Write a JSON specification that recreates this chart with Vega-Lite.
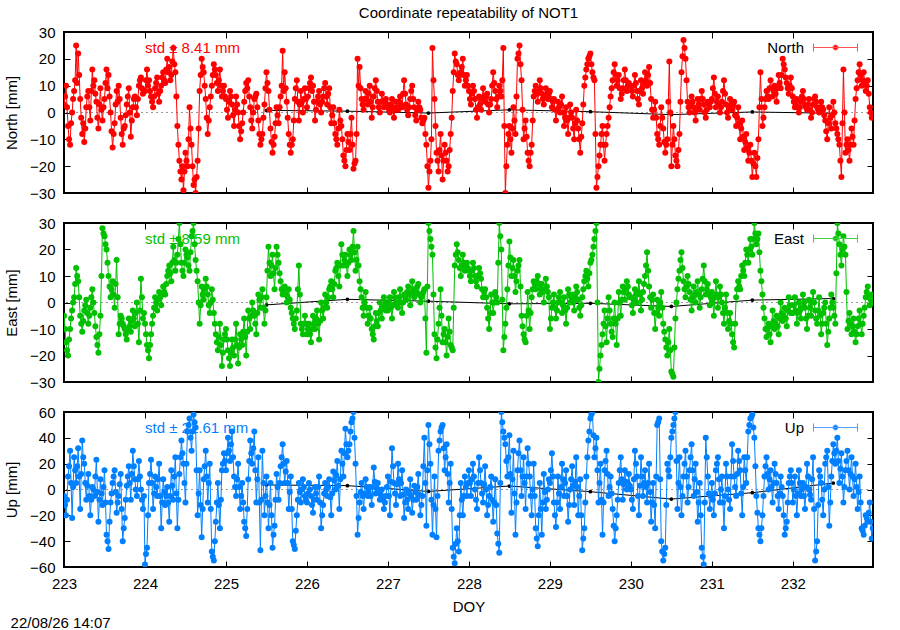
{
"$schema": "https://vega.github.io/schema/vega-lite/v6.json",
"autosize": {"type": "none"},
"padding": {"left": 64, "top": 32, "right": 827, "bottom": 598},
"background": "white",
"config": {
  "font": "Liberation Sans",
  "view": {"stroke": "black", "strokeWidth": 2},
  "axis": {"domain": false, "grid": false, "tickColor": "black", "tickWidth": 1, "labelColor": "black", "titleColor": "black", "labelFontSize": 15, "titleFontSize": 15, "titleFontWeight": "normal", "labelFont": "Liberation Sans", "titleFont": "Liberation Sans", "labelFlush": false, "labelOverlap": false}
},
"datasets": {
"mean": [{"t":225.5,"n":0.8,"e":-0.9,"u":3.5},{"t":226.5,"n":0.5,"e":1.2,"u":3.0},{"t":227.5,"n":-0.2,"e":0.5,"u":-1.5},{"t":228.5,"n":1.0,"e":-0.5,"u":2.7},{"t":229.5,"n":0.3,"e":-0.3,"u":-1.7},{"t":230.5,"n":-0.8,"e":-1.5,"u":-7.4},{"t":231.5,"n":0.2,"e":0.9,"u":-2.5},{"t":232.5,"n":-0.3,"e":1.5,"u":5.0}],
"ts": [
{"t":223.000,"n":3,"e":-5,"u":-5},{"t":223.025,"n":10,"e":-15,"u":-20},{"t":223.050,"n":-5,"e":-20,"u":10},{"t":223.075,"n":-12,"e":-10,"u":30},{"t":223.100,"n":0,"e":-3,"u":-22},{"t":223.125,"n":8,"e":2,"u":25},{"t":223.150,"n":25,"e":13,"u":5},{"t":223.175,"n":22,"e":8,"u":32},{"t":223.200,"n":5,"e":-5,"u":-15},{"t":223.225,"n":-8,"e":-11,"u":38},
{"t":223.250,"n":-11,"e":-3,"u":20},{"t":223.275,"n":2,"e":1,"u":-8},{"t":223.300,"n":8,"e":-8,"u":12},{"t":223.325,"n":-3,"e":-2,"u":-20},{"t":223.350,"n":16,"e":5,"u":2},{"t":223.375,"n":12,"e":-4,"u":-5},{"t":223.400,"n":4,"e":-13,"u":23},{"t":223.425,"n":-6,"e":-19,"u":-25},{"t":223.450,"n":9,"e":-5,"u":8},{"t":223.475,"n":-3,"e":28,"u":-12},
{"t":223.500,"n":5,"e":25,"u":15},{"t":223.525,"n":16,"e":20,"u":-35},{"t":223.550,"n":14,"e":10,"u":-46},{"t":223.575,"n":0,"e":2,"u":-10},{"t":223.600,"n":-13,"e":8,"u":5},{"t":223.625,"n":-4,"e":-2,"u":15},{"t":223.650,"n":8,"e":16,"u":-18},{"t":223.675,"n":10,"e":-12,"u":-5},{"t":223.700,"n":-2,"e":-5,"u":12},{"t":223.725,"n":-12,"e":-8,"u":-40},
{"t":223.750,"n":-5,"e":-10,"u":-22},{"t":223.775,"n":3,"e":-14,"u":3},{"t":223.800,"n":9,"e":-6,"u":18},{"t":223.825,"n":-9,"e":-11,"u":-8},{"t":223.850,"n":2,"e":-3,"u":30},{"t":223.875,"n":6,"e":-9,"u":8},{"t":223.900,"n":-1,"e":0,"u":-5},{"t":223.925,"n":10,"e":-15,"u":22},{"t":223.950,"n":13,"e":9,"u":0},{"t":223.975,"n":7,"e":-6,"u":-15},
{"t":224.000,"n":8,"e":-8,"u":-58},{"t":224.025,"n":16,"e":-16,"u":-45},{"t":224.050,"n":12,"e":-21,"u":5},{"t":224.075,"n":6,"e":-12,"u":23},{"t":224.100,"n":2,"e":-5,"u":-15},{"t":224.125,"n":9,"e":2,"u":10},{"t":224.150,"n":13,"e":-3,"u":-5},{"t":224.175,"n":4,"e":4,"u":20},{"t":224.200,"n":10,"e":-1,"u":-30},{"t":224.225,"n":15,"e":6,"u":8},
{"t":224.250,"n":11,"e":3,"u":-12},{"t":224.275,"n":20,"e":10,"u":2},{"t":224.300,"n":17,"e":14,"u":-25},{"t":224.325,"n":14,"e":8,"u":15},{"t":224.350,"n":24,"e":21,"u":-8},{"t":224.375,"n":15,"e":12,"u":25},{"t":224.400,"n":-5,"e":18,"u":-30},{"t":224.425,"n":-18,"e":30,"u":12},{"t":224.450,"n":-25,"e":15,"u":38},{"t":224.475,"n":-29,"e":10,"u":20},
{"t":224.500,"n":-15,"e":20,"u":-10},{"t":224.525,"n":-20,"e":17,"u":45},{"t":224.550,"n":2,"e":12,"u":55},{"t":224.575,"n":-12,"e":25,"u":30},{"t":224.600,"n":-27,"e":30,"u":58},{"t":224.625,"n":-30,"e":16,"u":48},{"t":224.650,"n":-18,"e":8,"u":-20},{"t":224.675,"n":8,"e":-8,"u":15},{"t":224.700,"n":20,"e":6,"u":-37},{"t":224.725,"n":15,"e":1,"u":8},
{"t":224.750,"n":5,"e":9,"u":30},{"t":224.775,"n":-8,"e":3,"u":-10},{"t":224.800,"n":2,"e":-4,"u":20},{"t":224.825,"n":10,"e":5,"u":-48},{"t":224.850,"n":18,"e":-4,"u":-55},{"t":224.875,"n":14,"e":-12,"u":-25},{"t":224.900,"n":8,"e":-18,"u":5},{"t":224.925,"n":16,"e":-8,"u":-30},{"t":224.950,"n":6,"e":-24,"u":15},{"t":224.975,"n":10,"e":-14,"u":28},
{"t":225.000,"n":5,"e":-10,"u":15},{"t":225.025,"n":-2,"e":-18,"u":40},{"t":225.050,"n":8,"e":-24,"u":22},{"t":225.075,"n":3,"e":-14,"u":45},{"t":225.100,"n":-5,"e":-20,"u":10},{"t":225.125,"n":6,"e":-8,"u":-5},{"t":225.150,"n":0,"e":-23,"u":20},{"t":225.175,"n":-10,"e":-12,"u":-15},{"t":225.200,"n":-4,"e":-16,"u":5},{"t":225.225,"n":4,"e":-6,"u":-25},
{"t":225.250,"n":11,"e":-20,"u":-36},{"t":225.275,"n":12,"e":-3,"u":8},{"t":225.300,"n":2,"e":-10,"u":38},{"t":225.325,"n":-6,"e":0,"u":20},{"t":225.350,"n":5,"e":-5,"u":45},{"t":225.375,"n":7,"e":-12,"u":-10},{"t":225.400,"n":-3,"e":3,"u":25},{"t":225.425,"n":-12,"e":-2,"u":-47},{"t":225.450,"n":-8,"e":5,"u":30},{"t":225.475,"n":3,"e":-8,"u":-20},
{"t":225.500,"n":15,"e":2,"u":10},{"t":225.525,"n":8,"e":21,"u":-30},{"t":225.550,"n":-6,"e":10,"u":5},{"t":225.575,"n":-15,"e":18,"u":-45},{"t":225.600,"n":-9,"e":5,"u":-28},{"t":225.625,"n":2,"e":21,"u":12},{"t":225.650,"n":-4,"e":15,"u":-8},{"t":225.675,"n":6,"e":8,"u":18},{"t":225.700,"n":23,"e":3,"u":35},{"t":225.725,"n":15,"e":6,"u":5},
{"t":225.750,"n":4,"e":0,"u":22},{"t":225.775,"n":-8,"e":5,"u":-15},{"t":225.800,"n":-15,"e":-2,"u":10},{"t":225.825,"n":-10,"e":-6,"u":-40},{"t":225.850,"n":5,"e":-10,"u":-46},{"t":225.875,"n":12,"e":-3,"u":-20},{"t":225.900,"n":-3,"e":14,"u":5},{"t":225.925,"n":8,"e":-8,"u":-10},{"t":225.950,"n":0,"e":-12,"u":8},{"t":225.975,"n":9,"e":-5,"u":-5},
{"t":226.000,"n":2,"e":-12,"u":-10},{"t":226.025,"n":9,"e":-8,"u":5},{"t":226.050,"n":13,"e":-15,"u":-5},{"t":226.075,"n":10,"e":-5,"u":-18},{"t":226.100,"n":-3,"e":-10,"u":2},{"t":226.125,"n":4,"e":-3,"u":-8},{"t":226.150,"n":8,"e":-14,"u":10},{"t":226.175,"n":0,"e":0,"u":-30},{"t":226.200,"n":6,"e":-6,"u":-12},{"t":226.225,"n":11,"e":3,"u":5},
{"t":226.250,"n":3,"e":-2,"u":-5},{"t":226.275,"n":9,"e":5,"u":8},{"t":226.300,"n":-4,"e":8,"u":-20},{"t":226.325,"n":2,"e":2,"u":14},{"t":226.350,"n":-8,"e":12,"u":0},{"t":226.375,"n":-12,"e":15,"u":22},{"t":226.400,"n":1,"e":6,"u":-15},{"t":226.425,"n":-5,"e":22,"u":30},{"t":226.450,"n":-16,"e":14,"u":10},{"t":226.475,"n":-20,"e":18,"u":47},
{"t":226.500,"n":-8,"e":10,"u":25},{"t":226.525,"n":-14,"e":20,"u":35},{"t":226.550,"n":-2,"e":16,"u":52},{"t":226.575,"n":-21,"e":27,"u":60},{"t":226.600,"n":-18,"e":12,"u":20},{"t":226.625,"n":20,"e":21,"u":-35},{"t":226.650,"n":17,"e":8,"u":-10},{"t":226.675,"n":5,"e":2,"u":5},{"t":226.700,"n":1,"e":-5,"u":-15},{"t":226.725,"n":8,"e":4,"u":8},
{"t":226.750,"n":3,"e":-8,"u":-5},{"t":226.775,"n":10,"e":-2,"u":2},{"t":226.800,"n":-2,"e":-10,"u":-12},{"t":226.825,"n":6,"e":-14,"u":17},{"t":226.850,"n":12,"e":-4,"u":-3},{"t":226.875,"n":4,"e":-9,"u":5},{"t":226.900,"n":0,"e":0,"u":-8},{"t":226.925,"n":7,"e":-6,"u":0},{"t":226.950,"n":2,"e":2,"u":-15},{"t":226.975,"n":5,"e":-3,"u":-5},
{"t":227.000,"n":3,"e":-3,"u":10},{"t":227.025,"n":0,"e":2,"u":-20},{"t":227.050,"n":5,"e":-6,"u":32},{"t":227.075,"n":-2,"e":4,"u":5},{"t":227.100,"n":4,"e":0,"u":-12},{"t":227.125,"n":1,"e":-2,"u":20},{"t":227.150,"n":6,"e":5,"u":-5},{"t":227.175,"n":2,"e":-4,"u":15},{"t":227.200,"n":12,"e":3,"u":-22},{"t":227.225,"n":3,"e":1,"u":0},
{"t":227.250,"n":-1,"e":6,"u":-15},{"t":227.275,"n":5,"e":-1,"u":8},{"t":227.300,"n":10,"e":8,"u":-18},{"t":227.325,"n":2,"e":2,"u":3},{"t":227.350,"n":-3,"e":4,"u":-8},{"t":227.375,"n":4,"e":7,"u":12},{"t":227.400,"n":1,"e":0,"u":-20},{"t":227.425,"n":-4,"e":3,"u":-5},{"t":227.450,"n":-2,"e":5,"u":40},{"t":227.475,"n":-12,"e":-19,"u":-28},
{"t":227.500,"n":-28,"e":30,"u":50},{"t":227.525,"n":-18,"e":24,"u":20},{"t":227.550,"n":24,"e":18,"u":-35},{"t":227.575,"n":5,"e":-12,"u":10},{"t":227.600,"n":-15,"e":-21,"u":-37},{"t":227.625,"n":-22,"e":-8,"u":30},{"t":227.650,"n":-8,"e":5,"u":45},{"t":227.675,"n":-25,"e":-15,"u":50},{"t":227.700,"n":-12,"e":-10,"u":15},{"t":227.725,"n":-18,"e":-20,"u":35},
{"t":227.750,"n":-20,"e":-6,"u":-10},{"t":227.775,"n":-8,"e":-16,"u":20},{"t":227.800,"n":8,"e":-18,"u":-45},{"t":227.825,"n":22,"e":14,"u":-57},{"t":227.850,"n":18,"e":22,"u":-30},{"t":227.875,"n":12,"e":16,"u":-48},{"t":227.900,"n":15,"e":10,"u":5},{"t":227.925,"n":20,"e":18,"u":-20},{"t":227.950,"n":10,"e":12,"u":10},{"t":227.975,"n":14,"e":15,"u":-5},
{"t":228.000,"n":8,"e":12,"u":15},{"t":228.025,"n":3,"e":8,"u":-5},{"t":228.050,"n":10,"e":15,"u":20},{"t":228.075,"n":5,"e":10,"u":0},{"t":228.100,"n":-2,"e":6,"u":-15},{"t":228.125,"n":6,"e":13,"u":25},{"t":228.150,"n":1,"e":9,"u":5},{"t":228.175,"n":9,"e":2,"u":-10},{"t":228.200,"n":4,"e":5,"u":18},{"t":228.225,"n":7,"e":-2,"u":-20},
{"t":228.250,"n":0,"e":-10,"u":-5},{"t":228.275,"n":5,"e":3,"u":10},{"t":228.300,"n":15,"e":-4,"u":-25},{"t":228.325,"n":8,"e":4,"u":8},{"t":228.350,"n":2,"e":0,"u":-34},{"t":228.375,"n":10,"e":30,"u":-49},{"t":228.400,"n":6,"e":20,"u":60},{"t":228.425,"n":24,"e":-18,"u":45},{"t":228.450,"n":-30,"e":-8,"u":35},{"t":228.475,"n":-12,"e":5,"u":10},
{"t":228.500,"n":-5,"e":23,"u":42},{"t":228.525,"n":-15,"e":10,"u":-18},{"t":228.550,"n":2,"e":16,"u":30},{"t":228.575,"n":-8,"e":4,"u":-35},{"t":228.600,"n":20,"e":12,"u":15},{"t":228.625,"n":25,"e":16,"u":38},{"t":228.650,"n":12,"e":-5,"u":-5},{"t":228.675,"n":-10,"e":-12,"u":25},{"t":228.700,"n":-3,"e":-15,"u":-15},{"t":228.725,"n":-15,"e":4,"u":32},
{"t":228.750,"n":-20,"e":-10,"u":10},{"t":228.775,"n":-12,"e":2,"u":-20},{"t":228.800,"n":6,"e":8,"u":20},{"t":228.825,"n":10,"e":5,"u":-30},{"t":228.850,"n":4,"e":10,"u":-44},{"t":228.875,"n":12,"e":3,"u":5},{"t":228.900,"n":7,"e":7,"u":-35},{"t":228.925,"n":3,"e":0,"u":12},{"t":228.950,"n":9,"e":9,"u":-15},{"t":228.975,"n":5,"e":4,"u":0},
{"t":229.000,"n":8,"e":-10,"u":5},{"t":229.025,"n":2,"e":-2,"u":28},{"t":229.050,"n":5,"e":3,"u":-10},{"t":229.075,"n":-3,"e":-6,"u":-29},{"t":229.100,"n":4,"e":0,"u":10},{"t":229.125,"n":0,"e":4,"u":-15},{"t":229.150,"n":6,"e":-4,"u":20},{"t":229.175,"n":-5,"e":2,"u":-5},{"t":229.200,"n":2,"e":-8,"u":15},{"t":229.225,"n":-8,"e":5,"u":-25},
{"t":229.250,"n":3,"e":0,"u":0},{"t":229.275,"n":-2,"e":3,"u":18},{"t":229.300,"n":-10,"e":-3,"u":-12},{"t":229.325,"n":1,"e":6,"u":25},{"t":229.350,"n":-6,"e":1,"u":-20},{"t":229.375,"n":-15,"e":-5,"u":8},{"t":229.400,"n":-4,"e":2,"u":-47},{"t":229.425,"n":10,"e":8,"u":-30},{"t":229.450,"n":16,"e":12,"u":10},{"t":229.475,"n":20,"e":6,"u":38},
{"t":229.500,"n":22,"e":15,"u":55},{"t":229.525,"n":15,"e":18,"u":60},{"t":229.550,"n":12,"e":24,"u":25},{"t":229.575,"n":-28,"e":30,"u":40},{"t":229.600,"n":-20,"e":-30,"u":-10},{"t":229.625,"n":-12,"e":-20,"u":20},{"t":229.650,"n":-5,"e":-12,"u":-35},{"t":229.675,"n":-18,"e":-3,"u":15},{"t":229.700,"n":-8,"e":-15,"u":30},{"t":229.725,"n":-2,"e":2,"u":-5},
{"t":229.750,"n":6,"e":-8,"u":10},{"t":229.775,"n":12,"e":-13,"u":-15},{"t":229.800,"n":18,"e":0,"u":-40},{"t":229.825,"n":10,"e":-16,"u":-20},{"t":229.850,"n":14,"e":4,"u":5},{"t":229.875,"n":5,"e":-5,"u":25},{"t":229.900,"n":9,"e":6,"u":-8},{"t":229.925,"n":16,"e":1,"u":15},{"t":229.950,"n":8,"e":8,"u":0},{"t":229.975,"n":11,"e":3,"u":12},
{"t":230.000,"n":10,"e":2,"u":0},{"t":230.025,"n":6,"e":-4,"u":-15},{"t":230.050,"n":14,"e":5,"u":30},{"t":230.075,"n":8,"e":0,"u":10},{"t":230.100,"n":3,"e":8,"u":-20},{"t":230.125,"n":12,"e":-3,"u":25},{"t":230.150,"n":7,"e":4,"u":-5},{"t":230.175,"n":15,"e":10,"u":15},{"t":230.200,"n":10,"e":19,"u":-10},{"t":230.225,"n":17,"e":6,"u":20},
{"t":230.250,"n":5,"e":-2,"u":-25},{"t":230.275,"n":-2,"e":3,"u":5},{"t":230.300,"n":4,"e":-10,"u":-30},{"t":230.325,"n":-8,"e":1,"u":50},{"t":230.350,"n":-12,"e":-5,"u":55},{"t":230.375,"n":2,"e":4,"u":-40},{"t":230.400,"n":-6,"e":-8,"u":-55},{"t":230.425,"n":-15,"e":-14,"u":-45},{"t":230.450,"n":-10,"e":-20,"u":20},{"t":230.475,"n":19,"e":-10,"u":10},
{"t":230.500,"n":-20,"e":-26,"u":40},{"t":230.525,"n":-5,"e":-28,"u":50},{"t":230.550,"n":-16,"e":-6,"u":60},{"t":230.575,"n":-20,"e":5,"u":-15},{"t":230.600,"n":-8,"e":12,"u":25},{"t":230.625,"n":15,"e":19,"u":-20},{"t":230.650,"n":27,"e":8,"u":10},{"t":230.675,"n":20,"e":2,"u":30},{"t":230.700,"n":4,"e":10,"u":-10},{"t":230.725,"n":0,"e":4,"u":15},
{"t":230.750,"n":6,"e":-3,"u":35},{"t":230.775,"n":2,"e":6,"u":-5},{"t":230.800,"n":-3,"e":0,"u":20},{"t":230.825,"n":5,"e":8,"u":-25},{"t":230.850,"n":1,"e":-2,"u":5},{"t":230.875,"n":8,"e":5,"u":-45},{"t":230.900,"n":3,"e":14,"u":-58},{"t":230.925,"n":-2,"e":3,"u":40},{"t":230.950,"n":4,"e":7,"u":10},{"t":230.975,"n":2,"e":-1,"u":-15},
{"t":231.000,"n":5,"e":4,"u":5},{"t":231.025,"n":13,"e":-5,"u":-20},{"t":231.050,"n":2,"e":8,"u":15},{"t":231.075,"n":6,"e":-2,"u":25},{"t":231.100,"n":0,"e":6,"u":-10},{"t":231.125,"n":4,"e":0,"u":10},{"t":231.150,"n":12,"e":-8,"u":-30},{"t":231.175,"n":3,"e":3,"u":20},{"t":231.200,"n":-2,"e":-10,"u":0},{"t":231.225,"n":5,"e":-4,"u":-15},
{"t":231.250,"n":1,"e":-12,"u":35},{"t":231.275,"n":4,"e":-17,"u":10},{"t":231.300,"n":-5,"e":2,"u":-5},{"t":231.325,"n":2,"e":8,"u":30},{"t":231.350,"n":-10,"e":5,"u":15},{"t":231.375,"n":-3,"e":14,"u":-20},{"t":231.400,"n":-14,"e":10,"u":25},{"t":231.425,"n":-8,"e":20,"u":5},{"t":231.450,"n":-18,"e":15,"u":45},{"t":231.475,"n":-12,"e":24,"u":55},
{"t":231.500,"n":-24,"e":18,"u":58},{"t":231.525,"n":-15,"e":30,"u":40},{"t":231.550,"n":-24,"e":22,"u":-5},{"t":231.575,"n":-10,"e":26,"u":-30},{"t":231.600,"n":15,"e":12,"u":-40},{"t":231.625,"n":-5,"e":3,"u":-20},{"t":231.650,"n":2,"e":-6,"u":10},{"t":231.675,"n":8,"e":-13,"u":25},{"t":231.700,"n":5,"e":-8,"u":0},{"t":231.725,"n":12,"e":-15,"u":15},
{"t":231.750,"n":6,"e":-3,"u":-10},{"t":231.775,"n":10,"e":-10,"u":20},{"t":231.800,"n":4,"e":-5,"u":5},{"t":231.825,"n":14,"e":-12,"u":-15},{"t":231.850,"n":9,"e":0,"u":10},{"t":231.875,"n":20,"e":-7,"u":-5},{"t":231.900,"n":16,"e":-2,"u":-35},{"t":231.925,"n":11,"e":-9,"u":-25},{"t":231.950,"n":7,"e":2,"u":5},{"t":231.975,"n":13,"e":-4,"u":15},
{"t":232.000,"n":6,"e":-4,"u":-10},{"t":232.025,"n":2,"e":2,"u":10},{"t":232.050,"n":5,"e":-8,"u":-20},{"t":232.075,"n":0,"e":0,"u":15},{"t":232.100,"n":4,"e":-6,"u":-5},{"t":232.125,"n":8,"e":3,"u":5},{"t":232.150,"n":3,"e":-2,"u":-15},{"t":232.175,"n":1,"e":-10,"u":20},{"t":232.200,"n":5,"e":1,"u":0},{"t":232.225,"n":-2,"e":-5,"u":-8},
{"t":232.250,"n":3,"e":4,"u":25},{"t":232.275,"n":6,"e":-3,"u":-55},{"t":232.300,"n":2,"e":-8,"u":-40},{"t":232.325,"n":0,"e":2,"u":15},{"t":232.350,"n":4,"e":-12,"u":5},{"t":232.375,"n":1,"e":-4,"u":-20},{"t":232.400,"n":-3,"e":0,"u":20},{"t":232.425,"n":-10,"e":-16,"u":30},{"t":232.450,"n":2,"e":-6,"u":-28},{"t":232.475,"n":-6,"e":3,"u":10},
{"t":232.500,"n":4,"e":-2,"u":35},{"t":232.525,"n":-4,"e":-8,"u":20},{"t":232.550,"n":-8,"e":30,"u":40},{"t":232.575,"n":-12,"e":22,"u":5},{"t":232.600,"n":-24,"e":14,"u":28},{"t":232.625,"n":16,"e":25,"u":-10},{"t":232.650,"n":-15,"e":18,"u":15},{"t":232.675,"n":-10,"e":-10,"u":30},{"t":232.700,"n":-18,"e":-4,"u":0},{"t":232.725,"n":-6,"e":-12,"u":25},
{"t":232.750,"n":-12,"e":-6,"u":-5},{"t":232.775,"n":5,"e":-15,"u":20},{"t":232.800,"n":12,"e":-9,"u":-15},{"t":232.825,"n":18,"e":-3,"u":10},{"t":232.850,"n":10,"e":-12,"u":-30},{"t":232.875,"n":15,"e":-5,"u":-35},{"t":232.900,"n":8,"e":2,"u":-20},{"t":232.925,"n":12,"e":6,"u":-25},{"t":232.950,"n":2,"e":-1,"u":-10},{"t":232.975,"n":-2,"e":3,"u":-38},
{"t":223.0125,"n":6,"e":-10,"u":-12},{"t":223.0375,"n":2,"e":-18,"u":-8},{"t":223.0625,"n":-10,"e":-14,"u":18},{"t":223.0875,"n":-4,"e":-6,"u":5},{"t":223.1125,"n":5,"e":0,"u":2},{"t":223.1375,"n":12,"e":7,"u":15},{"t":223.1625,"n":11,"e":10,"u":18},{"t":223.1875,"n":14,"e":2,"u":10},{"t":223.2125,"n":-2,"e":-8,"u":12},{"t":223.2375,"n":-4,"e":-7,"u":25},
{"t":223.2625,"n":-6,"e":-1,"u":5},{"t":223.2875,"n":6,"e":-4,"u":3},{"t":223.3125,"n":2,"e":-5,"u":-5},{"t":223.3375,"n":8,"e":2,"u":-8},{"t":223.3625,"n":10,"e":0,"u":0},{"t":223.3875,"n":7,"e":-9,"u":10},{"t":223.4125,"n":-2,"e":-16,"u":-2},{"t":223.4375,"n":3,"e":-12,"u":-8},{"t":223.4625,"n":1,"e":10,"u":-3},{"t":223.4875,"n":2,"e":26,"u":2},
{"t":223.5125,"n":11,"e":22,"u":-10},{"t":223.5375,"n":9,"e":15,"u":-40},{"t":223.5625,"n":6,"e":6,"u":-25},{"t":223.5875,"n":-7,"e":5,"u":-3},{"t":223.6125,"n":-8,"e":3,"u":10},{"t":223.6375,"n":3,"e":7,"u":-2},{"t":223.6625,"n":4,"e":2,"u":-10},{"t":223.6875,"n":5,"e":-8,"u":4},{"t":223.7125,"n":-8,"e":-6,"u":-15},{"t":223.7375,"n":-6,"e":-9,"u":-30},
{"t":223.7625,"n":-1,"e":-12,"u":-8},{"t":223.7875,"n":6,"e":-10,"u":10},{"t":223.8125,"n":0,"e":-9,"u":5},{"t":223.8375,"n":-3,"e":-7,"u":12},{"t":223.8625,"n":5,"e":-6,"u":18},{"t":223.8875,"n":2,"e":-4,"u":0},{"t":223.9125,"n":5,"e":-8,"u":8},{"t":223.9375,"n":12,"e":-3,"u":10},{"t":223.9625,"n":9,"e":2,"u":-8},{"t":223.9875,"n":8,"e":-4,"u":-5},
{"t":224.0125,"n":12,"e":-12,"u":-50},{"t":224.0375,"n":10,"e":-18,"u":-20},{"t":224.0625,"n":8,"e":-16,"u":12},{"t":224.0875,"n":4,"e":-8,"u":5},{"t":224.1125,"n":6,"e":-2,"u":-3},{"t":224.1375,"n":11,"e":0,"u":2},{"t":224.1625,"n":7,"e":1,"u":8},{"t":224.1875,"n":8,"e":2,"u":-5},{"t":224.2125,"n":13,"e":3,"u":-10},{"t":224.2375,"n":12,"e":4,"u":-2},
{"t":224.2625,"n":16,"e":7,"u":-5},{"t":224.2875,"n":15,"e":12,"u":-10},{"t":224.3125,"n":12,"e":11,"u":-5},{"t":224.3375,"n":19,"e":15,"u":3},{"t":224.3625,"n":18,"e":16,"u":10},{"t":224.3875,"n":6,"e":15,"u":-3},{"t":224.4125,"n":-12,"e":24,"u":-8},{"t":224.4375,"n":-22,"e":22,"u":25},{"t":224.4625,"n":-20,"e":12,"u":28},{"t":224.4875,"n":-22,"e":15,"u":5},
{"t":224.5125,"n":-18,"e":18,"u":20},{"t":224.5375,"n":-10,"e":14,"u":50},{"t":224.5625,"n":-6,"e":19,"u":40},{"t":224.5875,"n":-20,"e":27,"u":45},{"t":224.6125,"n":-25,"e":22,"u":52},{"t":224.6375,"n":-24,"e":12,"u":15},{"t":224.6625,"n":-6,"e":0,"u":-3},{"t":224.6875,"n":14,"e":-1,"u":-12},{"t":224.7125,"n":17,"e":3,"u":-15},{"t":224.7375,"n":10,"e":5,"u":18},
{"t":224.7625,"n":-2,"e":6,"u":10},{"t":224.7875,"n":-3,"e":-1,"u":5},{"t":224.8125,"n":6,"e":0,"u":-15},{"t":224.8375,"n":14,"e":1,"u":-52},{"t":224.8625,"n":16,"e":-8,"u":-40},{"t":224.8875,"n":11,"e":-15,"u":-10},{"t":224.9125,"n":12,"e":-13,"u":-12},{"t":224.9375,"n":10,"e":-16,"u":-8},{"t":224.9625,"n":8,"e":-19,"u":20},{"t":224.9875,"n":6,"e":-12,"u":22},
{"t":225.0125,"n":1,"e":-14,"u":28},{"t":225.0375,"n":4,"e":-21,"u":30},{"t":225.0625,"n":6,"e":-19,"u":35},{"t":225.0875,"n":-1,"e":-17,"u":25},{"t":225.1125,"n":1,"e":-14,"u":2},{"t":225.1375,"n":3,"e":-16,"u":8},{"t":225.1625,"n":-5,"e":-17,"u":2},{"t":225.1875,"n":-7,"e":-14,"u":-5},{"t":225.2125,"n":0,"e":-11,"u":-10},{"t":225.2375,"n":8,"e":-13,"u":-30},
{"t":225.2625,"n":9,"e":-11,"u":-15},{"t":225.2875,"n":6,"e":-6,"u":22},{"t":225.3125,"n":-3,"e":-5,"u":28},{"t":225.3375,"n":0,"e":-3,"u":32},{"t":225.3625,"n":6,"e":-8,"u":15},{"t":225.3875,"n":2,"e":-4,"u":8},{"t":225.4125,"n":-8,"e":1,"u":-10},{"t":225.4375,"n":-10,"e":2,"u":-8},{"t":225.4625,"n":-2,"e":-2,"u":5},{"t":225.4875,"n":9,"e":-3,"u":-5},
{"t":225.5125,"n":11,"e":12,"u":-10},{"t":225.5375,"n":1,"e":15,"u":-12},{"t":225.5625,"n":-11,"e":14,"u":-20},{"t":225.5875,"n":-12,"e":11,"u":-35},{"t":225.6125,"n":-4,"e":13,"u":-8},{"t":225.6375,"n":-1,"e":18,"u":2},{"t":225.6625,"n":2,"e":11,"u":5},{"t":225.6875,"n":10,"e":5,"u":25},{"t":225.7125,"n":8,"e":4,"u":20},{"t":225.7375,"n":9,"e":3,"u":14},
{"t":225.7625,"n":-2,"e":2,"u":5},{"t":225.7875,"n":-12,"e":1,"u":-2},{"t":225.8125,"n":-12,"e":-4,"u":-15},{"t":225.8375,"n":-3,"e":-8,"u":-43},{"t":225.8625,"n":9,"e":-6,"u":-32},{"t":225.8875,"n":4,"e":5,"u":-8},{"t":225.9125,"n":3,"e":3,"u":-2},{"t":225.9375,"n":4,"e":-10,"u":0},{"t":225.9625,"n":5,"e":-8,"u":2},{"t":225.9875,"n":5,"e":-8,"u":-8},
{"t":226.0125,"n":6,"e":-10,"u":-3},{"t":226.0375,"n":11,"e":-12,"u":0},{"t":226.0625,"n":8,"e":-10,"u":-12},{"t":226.0875,"n":4,"e":-8,"u":-8},{"t":226.1125,"n":1,"e":-6,"u":-3},{"t":226.1375,"n":6,"e":-8,"u":2},{"t":226.1625,"n":3,"e":-7,"u":-10},{"t":226.1875,"n":4,"e":-3,"u":-20},{"t":226.2125,"n":9,"e":-2,"u":-3},{"t":226.2375,"n":6,"e":0,"u":0},
{"t":226.2625,"n":7,"e":2,"u":2},{"t":226.2875,"n":2,"e":6,"u":-6},{"t":226.3125,"n":-1,"e":5,"u":-3},{"t":226.3375,"n":-4,"e":7,"u":7},{"t":226.3625,"n":-10,"e":13,"u":11},{"t":226.3875,"n":-6,"e":10,"u":3},{"t":226.4125,"n":-3,"e":14,"u":8},{"t":226.4375,"n":-10,"e":18,"u":20},{"t":226.4625,"n":-18,"e":16,"u":28},{"t":226.4875,"n":-14,"e":14,"u":35},
{"t":226.5125,"n":-11,"e":15,"u":30},{"t":226.5375,"n":-8,"e":18,"u":45},{"t":226.5625,"n":-12,"e":21,"u":55},{"t":226.5875,"n":-19,"e":19,"u":40},{"t":226.6125,"n":-8,"e":16,"u":-5},{"t":226.6375,"n":10,"e":14,"u":-22},{"t":226.6625,"n":9,"e":5,"u":-2},{"t":226.6875,"n":3,"e":-2,"u":-5},{"t":226.7125,"n":5,"e":0,"u":-3},{"t":226.7375,"n":5,"e":-2,"u":2},
{"t":226.7625,"n":7,"e":-5,"u":-2},{"t":226.7875,"n":4,"e":-6,"u":-5},{"t":226.8125,"n":2,"e":-12,"u":2},{"t":226.8375,"n":9,"e":-9,"u":6},{"t":226.8625,"n":8,"e":-7,"u":1},{"t":226.8875,"n":2,"e":-4,"u":-2},{"t":226.9125,"n":4,"e":-3,"u":-4},{"t":226.9375,"n":4,"e":-2,"u":-8},{"t":226.9625,"n":4,"e":-1,"u":-10},{"t":226.9875,"n":3,"e":0,"u":2},
{"t":227.0125,"n":1,"e":0,"u":-5},{"t":227.0375,"n":3,"e":-2,"u":6},{"t":227.0625,"n":2,"e":-1,"u":18},{"t":227.0875,"n":1,"e":2,"u":-3},{"t":227.1125,"n":2,"e":-1,"u":4},{"t":227.1375,"n":4,"e":2,"u":8},{"t":227.1625,"n":3,"e":0,"u":5},{"t":227.1875,"n":7,"e":0,"u":-4},{"t":227.2125,"n":7,"e":2,"u":-10},{"t":227.2375,"n":1,"e":4,"u":-8},
{"t":227.2625,"n":2,"e":3,"u":-3},{"t":227.2875,"n":8,"e":4,"u":-5},{"t":227.3125,"n":5,"e":5,"u":-8},{"t":227.3375,"n":-1,"e":3,"u":-2},{"t":227.3625,"n":1,"e":6,"u":2},{"t":227.3875,"n":2,"e":3,"u":-4},{"t":227.4125,"n":-2,"e":2,"u":-12},{"t":227.4375,"n":-3,"e":4,"u":18},{"t":227.4625,"n":-8,"e":-6,"u":5},{"t":227.4875,"n":-20,"e":6,"u":15},
{"t":227.5125,"n":-22,"e":27,"u":35},{"t":227.5375,"n":-10,"e":21,"u":-8},{"t":227.5625,"n":12,"e":3,"u":-12},{"t":227.5875,"n":-5,"e":-17,"u":-15},{"t":227.6125,"n":-18,"e":-14,"u":-5},{"t":227.6375,"n":-14,"e":-2,"u":38},{"t":227.6625,"n":-16,"e":-5,"u":48},{"t":227.6875,"n":-18,"e":-12,"u":32},{"t":227.7125,"n":-15,"e":-15,"u":25},{"t":227.7375,"n":-22,"e":-13,"u":12},
{"t":227.7625,"n":-14,"e":-11,"u":5},{"t":227.7875,"n":-2,"e":-17,"u":-15},{"t":227.8125,"n":15,"e":-2,"u":-52},{"t":227.8375,"n":19,"e":18,"u":-42},{"t":227.8625,"n":14,"e":19,"u":-40},{"t":227.8875,"n":14,"e":13,"u":-20},{"t":227.9125,"n":17,"e":14,"u":-8},{"t":227.9375,"n":14,"e":15,"u":-5},{"t":227.9625,"n":12,"e":13,"u":2},{"t":227.9875,"n":10,"e":13,"u":5},
{"t":228.0125,"n":5,"e":10,"u":5},{"t":228.0375,"n":7,"e":12,"u":8},{"t":228.0625,"n":8,"e":13,"u":10},{"t":228.0875,"n":1,"e":8,"u":-8},{"t":228.1125,"n":2,"e":10,"u":5},{"t":228.1375,"n":3,"e":11,"u":15},{"t":228.1625,"n":5,"e":5,"u":-3},{"t":228.1875,"n":6,"e":4,"u":4},{"t":228.2125,"n":6,"e":2,"u":0},{"t":228.2375,"n":3,"e":-6,"u":-12},
{"t":228.2625,"n":3,"e":-4,"u":2},{"t":228.2875,"n":10,"e":0,"u":-8},{"t":228.3125,"n":11,"e":0,"u":-10},{"t":228.3375,"n":5,"e":2,"u":-12},{"t":228.3625,"n":6,"e":15,"u":-42},{"t":228.3875,"n":8,"e":25,"u":5},{"t":228.4125,"n":12,"e":1,"u":52},{"t":228.4375,"n":-5,"e":-13,"u":40},{"t":228.4625,"n":-20,"e":-2,"u":22},{"t":228.4875,"n":-8,"e":14,"u":25},
{"t":228.5125,"n":-10,"e":17,"u":12},{"t":228.5375,"n":-6,"e":13,"u":8},{"t":228.5625,"n":-3,"e":10,"u":-3},{"t":228.5875,"n":6,"e":8,"u":-10},{"t":228.6125,"n":22,"e":14,"u":28},{"t":228.6375,"n":18,"e":6,"u":15},{"t":228.6625,"n":1,"e":-9,"u":10},{"t":228.6875,"n":-6,"e":-14,"u":5},{"t":228.7125,"n":-9,"e":-5,"u":10},{"t":228.7375,"n":-18,"e":-3,"u":20},
{"t":228.7625,"n":-15,"e":-4,"u":-5},{"t":228.7875,"n":-3,"e":5,"u":0},{"t":228.8125,"n":8,"e":7,"u":-5},{"t":228.8375,"n":7,"e":8,"u":-38},{"t":228.8625,"n":8,"e":7,"u":-20},{"t":228.8875,"n":9,"e":5,"u":-15},{"t":228.9125,"n":5,"e":4,"u":-10},{"t":228.9375,"n":6,"e":5,"u":-2},{"t":228.9625,"n":7,"e":6,"u":-8},{"t":228.9875,"n":7,"e":2,"u":8},
{"t":229.0125,"n":5,"e":-6,"u":15},{"t":229.0375,"n":4,"e":0,"u":10},{"t":229.0625,"n":1,"e":-2,"u":-20},{"t":229.0875,"n":1,"e":-3,"u":-10},{"t":229.1125,"n":2,"e":2,"u":-3},{"t":229.1375,"n":3,"e":0,"u":2},{"t":229.1625,"n":0,"e":-1,"u":8},{"t":229.1875,"n":-2,"e":-3,"u":5},{"t":229.2125,"n":-3,"e":-2,"u":-5},{"t":229.2375,"n":-2,"e":3,"u":-12},
{"t":229.2625,"n":0,"e":2,"u":8},{"t":229.2875,"n":-6,"e":0,"u":3},{"t":229.3125,"n":-4,"e":2,"u":6},{"t":229.3375,"n":-3,"e":4,"u":2},{"t":229.3625,"n":-10,"e":-2,"u":-5},{"t":229.3875,"n":-9,"e":-1,"u":-20},{"t":229.4125,"n":3,"e":5,"u":-38},{"t":229.4375,"n":13,"e":10,"u":-10},{"t":229.4625,"n":18,"e":9,"u":25},{"t":229.4875,"n":21,"e":11,"u":45},
{"t":229.5125,"n":18,"e":16,"u":58},{"t":229.5375,"n":13,"e":21,"u":42},{"t":229.5625,"n":-8,"e":27,"u":32},{"t":229.5875,"n":-24,"e":0,"u":15},{"t":229.6125,"n":-16,"e":-25,"u":5},{"t":229.6375,"n":-8,"e":-16,"u":-8},{"t":229.6625,"n":-12,"e":-8,"u":-10},{"t":229.6875,"n":-12,"e":-9,"u":22},{"t":229.7125,"n":-5,"e":-6,"u":12},{"t":229.7375,"n":2,"e":-3,"u":2},
{"t":229.7625,"n":9,"e":-11,"u":-3},{"t":229.7875,"n":15,"e":-6,"u":-28},{"t":229.8125,"n":14,"e":-8,"u":-30},{"t":229.8375,"n":12,"e":-6,"u":-8},{"t":229.8625,"n":9,"e":0,"u":15},{"t":229.8875,"n":7,"e":1,"u":8},{"t":229.9125,"n":12,"e":4,"u":4},{"t":229.9375,"n":12,"e":5,"u":6},{"t":229.9625,"n":10,"e":6,"u":5},{"t":229.9875,"n":10,"e":2,"u":3},
{"t":230.0125,"n":8,"e":-1,"u":-8},{"t":230.0375,"n":10,"e":1,"u":8},{"t":230.0625,"n":11,"e":3,"u":20},{"t":230.0875,"n":5,"e":4,"u":-5},{"t":230.1125,"n":8,"e":3,"u":3},{"t":230.1375,"n":9,"e":1,"u":10},{"t":230.1625,"n":11,"e":7,"u":5},{"t":230.1875,"n":12,"e":14,"u":2},{"t":230.2125,"n":14,"e":12,"u":5},{"t":230.2375,"n":11,"e":2,"u":-2},
{"t":230.2625,"n":1,"e":1,"u":-10},{"t":230.2875,"n":1,"e":-4,"u":-12},{"t":230.3125,"n":-2,"e":-4,"u":10},{"t":230.3375,"n":-10,"e":-2,"u":52},{"t":230.3625,"n":-5,"e":0,"u":8},{"t":230.3875,"n":-2,"e":-2,"u":-48},{"t":230.4125,"n":-11,"e":-11,"u":-50},{"t":230.4375,"n":-12,"e":-17,"u":-12},{"t":230.4625,"n":4,"e":-15,"u":15},{"t":230.4875,"n":0,"e":-18,"u":25},
{"t":230.5125,"n":-12,"e":-27,"u":45},{"t":230.5375,"n":-10,"e":-17,"u":55},{"t":230.5625,"n":-18,"e":0,"u":22},{"t":230.5875,"n":-14,"e":9,"u":5},{"t":230.6125,"n":4,"e":16,"u":2},{"t":230.6375,"n":21,"e":13,"u":-5},{"t":230.6625,"n":24,"e":5,"u":20},{"t":230.6875,"n":12,"e":6,"u":10},{"t":230.7125,"n":2,"e":7,"u":2},{"t":230.7375,"n":3,"e":1,"u":25},
{"t":230.7625,"n":4,"e":2,"u":15},{"t":230.7875,"n":0,"e":3,"u":8},{"t":230.8125,"n":1,"e":4,"u":-2},{"t":230.8375,"n":3,"e":3,"u":-10},{"t":230.8625,"n":5,"e":2,"u":-20},{"t":230.8875,"n":5,"e":9,"u":-52},{"t":230.9125,"n":0,"e":8,"u":-10},{"t":230.9375,"n":1,"e":5,"u":25},{"t":230.9625,"n":3,"e":3,"u":-3},{"t":230.9875,"n":4,"e":2,"u":-5},
{"t":231.0125,"n":9,"e":0,"u":-8},{"t":231.0375,"n":7,"e":2,"u":-3},{"t":231.0625,"n":4,"e":3,"u":20},{"t":231.0875,"n":3,"e":2,"u":8},{"t":231.1125,"n":2,"e":3,"u":0},{"t":231.1375,"n":8,"e":-4,"u":-10},{"t":231.1625,"n":7,"e":-2,"u":-5},{"t":231.1875,"n":0,"e":-4,"u":10},{"t":231.2125,"n":2,"e":-7,"u":-8},{"t":231.2375,"n":3,"e":-8,"u":10},
{"t":231.2625,"n":3,"e":-15,"u":22},{"t":231.2875,"n":-1,"e":-8,"u":2},{"t":231.3125,"n":-2,"e":5,"u":12},{"t":231.3375,"n":-4,"e":6,"u":22},{"t":231.3625,"n":-6,"e":10,"u":-3},{"t":231.3875,"n":-9,"e":12,"u":2},{"t":231.4125,"n":-11,"e":15,"u":15},{"t":231.4375,"n":-13,"e":18,"u":25},{"t":231.4625,"n":-15,"e":20,"u":50},{"t":231.4875,"n":-18,"e":21,"u":56},
{"t":231.5125,"n":-19,"e":24,"u":48},{"t":231.5375,"n":-20,"e":26,"u":18},{"t":231.5625,"n":-17,"e":24,"u":-18},{"t":231.5875,"n":2,"e":19,"u":-35},{"t":231.6125,"n":5,"e":8,"u":-30},{"t":231.6375,"n":-2,"e":-2,"u":-5},{"t":231.6625,"n":5,"e":-10,"u":18},{"t":231.6875,"n":6,"e":-10,"u":12},{"t":231.7125,"n":9,"e":-12,"u":8},{"t":231.7375,"n":9,"e":-9,"u":2},
{"t":231.7625,"n":8,"e":-7,"u":5},{"t":231.7875,"n":7,"e":-8,"u":12},{"t":231.8125,"n":9,"e":-9,"u":-5},{"t":231.8375,"n":11,"e":-6,"u":-3},{"t":231.8625,"n":14,"e":-4,"u":2},{"t":231.8875,"n":18,"e":-5,"u":-20},{"t":231.9125,"n":13,"e":-6,"u":-30},{"t":231.9375,"n":9,"e":-3,"u":-10},{"t":231.9625,"n":10,"e":-1,"u":10},{"t":231.9875,"n":9,"e":-4,"u":5},
{"t":232.0125,"n":4,"e":-1,"u":0},{"t":232.0375,"n":3,"e":-3,"u":-5},{"t":232.0625,"n":2,"e":-4,"u":-3},{"t":232.0875,"n":2,"e":-3,"u":5},{"t":232.1125,"n":6,"e":-2,"u":0},{"t":232.1375,"n":5,"e":0,"u":-5},{"t":232.1625,"n":2,"e":-6,"u":2},{"t":232.1875,"n":3,"e":-5,"u":10},{"t":232.2125,"n":1,"e":-2,"u":-4},{"t":232.2375,"n":0,"e":0,"u":8},
{"t":232.2625,"n":5,"e":0,"u":-15},{"t":232.2875,"n":4,"e":-6,"u":-48},{"t":232.3125,"n":1,"e":-3,"u":-12},{"t":232.3375,"n":2,"e":-5,"u":10},{"t":232.3625,"n":2,"e":-8,"u":-8},{"t":232.3875,"n":-1,"e":-2,"u":0},{"t":232.4125,"n":-7,"e":-8,"u":25},{"t":232.4375,"n":-4,"e":-11,"u":2},{"t":232.4625,"n":-2,"e":-2,"u":-10},{"t":232.4875,"n":-1,"e":0,"u":22},
{"t":232.5125,"n":0,"e":-5,"u":28},{"t":232.5375,"n":-6,"e":11,"u":30},{"t":232.5625,"n":-10,"e":26,"u":22},{"t":232.5875,"n":-18,"e":18,"u":16},{"t":232.6125,"n":-4,"e":20,"u":10},{"t":232.6375,"n":0,"e":21,"u":2},{"t":232.6625,"n":-12,"e":4,"u":22},{"t":232.6875,"n":-14,"e":-7,"u":15},{"t":232.7125,"n":-12,"e":-8,"u":12},{"t":232.7375,"n":-9,"e":-9,"u":10},
{"t":232.7625,"n":-3,"e":-11,"u":8},{"t":232.7875,"n":9,"e":-12,"u":2},{"t":232.8125,"n":15,"e":-6,"u":-2},{"t":232.8375,"n":14,"e":-8,"u":-10},{"t":232.8625,"n":12,"e":-8,"u":-32},{"t":232.8875,"n":11,"e":-2,"u":-28},{"t":232.9125,"n":10,"e":4,"u":-22},{"t":232.9375,"n":7,"e":2,"u":-18},{"t":232.9625,"n":0,"e":1,"u":-25},{"t":232.9875,"n":-1,"e":0,"u":-30}
]
},
"spacing": 30,
"bounds": "flush",
"resolve": {"scale": {"color": "independent"}, "legend": {"color": "independent"}},
"vconcat": [
{
 "width": 809, "height": 161,
 "title": {"text": "Coordinate repeatability of NOT1", "fontSize": 15, "fontWeight": "normal", "font": "Liberation Sans", "color": "black", "anchor": "middle", "frame": "group", "baseline": "bottom", "offset": 6, "dy": 17},
 "layer": [
  {"data": {"values": [{}]}, "mark": {"type": "rule", "color": "#999999", "strokeDash": [2, 3], "strokeWidth": 1},
   "encoding": {"y": {"datum": 0, "type": "quantitative", "scale": {"domain": [-30, 30], "nice": false, "zero": false}, "axis": {"orient": "right", "values": [-30, -20, -10, 0, 10, 20, 30], "labels": false, "title": null, "tickSize": -6, "minExtent": 0}}}},
  {"data": {"values": [{}]}, "mark": {"type": "text", "align": "left", "baseline": "middle", "fontSize": 15, "color": "#ff0000"},
   "encoding": {"x": {"datum": 224.0, "type": "quantitative", "scale": {"domain": [223, 232.99], "nice": false, "zero": false}, "axis": {"orient": "top", "values": [223, 224, 225, 226, 227, 228, 229, 230, 231, 232], "labels": false, "title": null, "tickSize": -6, "minExtent": 0}},
    "y": {"datum": 24, "type": "quantitative", "scale": {"domain": [-30, 30], "nice": false, "zero": false}, "axis": null},
    "text": {"value": "std ± 8.41 mm"}}},
  {"data": {"name": "mean"}, "mark": {"type": "line", "color": "black", "strokeWidth": 1},
   "encoding": {"x": {"field": "t", "type": "quantitative", "scale": {"domain": [223, 232.99], "nice": false, "zero": false}, "axis": null}, "y": {"field": "n", "type": "quantitative", "scale": {"domain": [-30, 30], "nice": false, "zero": false}, "axis": null}}},
  {"data": {"name": "mean"}, "mark": {"type": "point", "filled": true, "color": "black", "size": 14, "opacity": 1},
   "encoding": {"x": {"field": "t", "type": "quantitative", "scale": {"domain": [223, 232.99], "nice": false, "zero": false}, "axis": null}, "y": {"field": "n", "type": "quantitative", "scale": {"domain": [-30, 30], "nice": false, "zero": false}, "axis": null}}},
  {"data": {"name": "ts"}, "mark": {"type": "line", "color": "#ff0000", "strokeWidth": 1, "clip": true},
   "encoding": {"x": {"field": "t", "type": "quantitative", "scale": {"domain": [223, 232.99], "nice": false, "zero": false}, "axis": {"orient": "bottom", "values": [223, 224, 225, 226, 227, 228, 229, 230, 231, 232], "labels": false, "title": null, "tickSize": -6, "minExtent": 0}},
    "y": {"field": "n", "type": "quantitative", "scale": {"domain": [-30, 30], "nice": false, "zero": false}, "axis": {"orient": "left", "values": [-30, -20, -10, 0, 10, 20, 30], "title": "North [mm]", "tickSize": -6, "labelPadding": 15, "titlePadding": 10}}}},
  {"data": {"name": "ts"}, "mark": {"type": "point", "filled": true, "shape": "circle", "size": 36, "opacity": 1, "clip": true},
   "encoding": {"x": {"field": "t", "type": "quantitative", "scale": {"domain": [223, 232.99], "nice": false, "zero": false}, "axis": null},
    "y": {"field": "n", "type": "quantitative", "scale": {"domain": [-30, 30], "nice": false, "zero": false}, "axis": null},
    "color": {"datum": "North", "scale": {"domain": ["North"], "range": ["#ff0000"]},
     "legend": {"orient": "none", "legendX": 764, "legendY": 8, "title": null, "padding": 0, "symbolType": "M-4.4,0L4.4,0M-4.4,-0.8L-4.4,0.8M4.4,-0.8L4.4,0.8M-0.5,0A0.5,0.5,0,1,0,0.5,0A0.5,0.5,0,1,0,-0.5,0Z", "symbolSize": 100, "symbolStrokeColor": "#ff5050", "symbolStrokeWidth": 1, "symbolOpacity": 1, "labelFontSize": 15, "labelColor": "black", "labelAlign": "right", "labelOffset": -39}}}}
 ]
},
{
 "width": 809, "height": 159,
 "layer": [
  {"data": {"values": [{}]}, "mark": {"type": "rule", "color": "#999999", "strokeDash": [2, 3], "strokeWidth": 1},
   "encoding": {"y": {"datum": 0, "type": "quantitative", "scale": {"domain": [-30, 30], "nice": false, "zero": false}, "axis": {"orient": "right", "values": [-30, -20, -10, 0, 10, 20, 30], "labels": false, "title": null, "tickSize": -6, "minExtent": 0}}}},
  {"data": {"values": [{}]}, "mark": {"type": "text", "align": "left", "baseline": "middle", "fontSize": 15, "color": "#00c000"},
   "encoding": {"x": {"datum": 224.0, "type": "quantitative", "scale": {"domain": [223, 232.99], "nice": false, "zero": false}, "axis": {"orient": "top", "values": [223, 224, 225, 226, 227, 228, 229, 230, 231, 232], "labels": false, "title": null, "tickSize": -6, "minExtent": 0}},
    "y": {"datum": 24, "type": "quantitative", "scale": {"domain": [-30, 30], "nice": false, "zero": false}, "axis": null},
    "text": {"value": "std ± 8.59 mm"}}},
  {"data": {"name": "mean"}, "mark": {"type": "line", "color": "black", "strokeWidth": 1},
   "encoding": {"x": {"field": "t", "type": "quantitative", "scale": {"domain": [223, 232.99], "nice": false, "zero": false}, "axis": null}, "y": {"field": "e", "type": "quantitative", "scale": {"domain": [-30, 30], "nice": false, "zero": false}, "axis": null}}},
  {"data": {"name": "mean"}, "mark": {"type": "point", "filled": true, "color": "black", "size": 14, "opacity": 1},
   "encoding": {"x": {"field": "t", "type": "quantitative", "scale": {"domain": [223, 232.99], "nice": false, "zero": false}, "axis": null}, "y": {"field": "e", "type": "quantitative", "scale": {"domain": [-30, 30], "nice": false, "zero": false}, "axis": null}}},
  {"data": {"name": "ts"}, "mark": {"type": "line", "color": "#00c000", "strokeWidth": 1, "clip": true},
   "encoding": {"x": {"field": "t", "type": "quantitative", "scale": {"domain": [223, 232.99], "nice": false, "zero": false}, "axis": {"orient": "bottom", "values": [223, 224, 225, 226, 227, 228, 229, 230, 231, 232], "labels": false, "title": null, "tickSize": -6, "minExtent": 0}},
    "y": {"field": "e", "type": "quantitative", "scale": {"domain": [-30, 30], "nice": false, "zero": false}, "axis": {"orient": "left", "values": [-30, -20, -10, 0, 10, 20, 30], "title": "East [mm]", "tickSize": -6, "labelPadding": 15, "titlePadding": 10}}}},
  {"data": {"name": "ts"}, "mark": {"type": "point", "filled": true, "shape": "circle", "size": 36, "opacity": 1, "clip": true},
   "encoding": {"x": {"field": "t", "type": "quantitative", "scale": {"domain": [223, 232.99], "nice": false, "zero": false}, "axis": null},
    "y": {"field": "e", "type": "quantitative", "scale": {"domain": [-30, 30], "nice": false, "zero": false}, "axis": null},
    "color": {"datum": "East", "scale": {"domain": ["East"], "range": ["#00c000"]},
     "legend": {"orient": "none", "legendX": 764, "legendY": 8, "title": null, "padding": 0, "symbolType": "M-4.4,0L4.4,0M-4.4,-0.8L-4.4,0.8M4.4,-0.8L4.4,0.8M-0.5,0A0.5,0.5,0,1,0,0.5,0A0.5,0.5,0,1,0,-0.5,0Z", "symbolSize": 100, "symbolStrokeColor": "#40d040", "symbolStrokeWidth": 1, "symbolOpacity": 1, "labelFontSize": 15, "labelColor": "black", "labelAlign": "right", "labelOffset": -39}}}}
 ]
},
{
 "width": 809, "height": 155,
 "title": {"text": "22/08/26 14:07", "orient": "bottom", "anchor": "start", "dx": 6, "offset": 2, "fontSize": 15, "fontWeight": "normal", "font": "Liberation Sans", "color": "black", "baseline": "top"},
 "layer": [
  {"data": {"values": [{}]}, "mark": {"type": "rule", "color": "#999999", "strokeDash": [2, 3], "strokeWidth": 1},
   "encoding": {"y": {"datum": 0, "type": "quantitative", "scale": {"domain": [-60, 60], "nice": false, "zero": false}, "axis": {"orient": "right", "values": [-60, -40, -20, 0, 20, 40, 60], "labels": false, "title": null, "tickSize": -6, "minExtent": 0}}}},
  {"data": {"values": [{}]}, "mark": {"type": "text", "align": "left", "baseline": "middle", "fontSize": 15, "color": "#0080ff"},
   "encoding": {"x": {"datum": 224.0, "type": "quantitative", "scale": {"domain": [223, 232.99], "nice": false, "zero": false}, "axis": {"orient": "top", "values": [223, 224, 225, 226, 227, 228, 229, 230, 231, 232], "labels": false, "title": null, "tickSize": -6, "minExtent": 0}},
    "y": {"datum": 47.6, "type": "quantitative", "scale": {"domain": [-60, 60], "nice": false, "zero": false}, "axis": null},
    "text": {"value": "std ± 21.61 mm"}}},
  {"data": {"name": "mean"}, "mark": {"type": "line", "color": "black", "strokeWidth": 1},
   "encoding": {"x": {"field": "t", "type": "quantitative", "scale": {"domain": [223, 232.99], "nice": false, "zero": false}, "axis": null}, "y": {"field": "u", "type": "quantitative", "scale": {"domain": [-60, 60], "nice": false, "zero": false}, "axis": null}}},
  {"data": {"name": "mean"}, "mark": {"type": "point", "filled": true, "color": "black", "size": 14, "opacity": 1},
   "encoding": {"x": {"field": "t", "type": "quantitative", "scale": {"domain": [223, 232.99], "nice": false, "zero": false}, "axis": null}, "y": {"field": "u", "type": "quantitative", "scale": {"domain": [-60, 60], "nice": false, "zero": false}, "axis": null}}},
  {"data": {"name": "ts"}, "mark": {"type": "line", "color": "#0080ff", "strokeWidth": 1, "clip": true},
   "encoding": {"x": {"field": "t", "type": "quantitative", "scale": {"domain": [223, 232.99], "nice": false, "zero": false}, "axis": {"orient": "bottom", "values": [223, 224, 225, 226, 227, 228, 229, 230, 231, 232], "format": "d", "title": "DOY", "tickSize": -6, "labelPadding": 15, "titlePadding": 8}},
    "y": {"field": "u", "type": "quantitative", "scale": {"domain": [-60, 60], "nice": false, "zero": false}, "axis": {"orient": "left", "values": [-60, -40, -20, 0, 20, 40, 60], "title": "Up [mm]", "tickSize": -6, "labelPadding": 15, "titlePadding": 10}}}},
  {"data": {"name": "ts"}, "mark": {"type": "point", "filled": true, "shape": "circle", "size": 36, "opacity": 1, "clip": true},
   "encoding": {"x": {"field": "t", "type": "quantitative", "scale": {"domain": [223, 232.99], "nice": false, "zero": false}, "axis": null},
    "y": {"field": "u", "type": "quantitative", "scale": {"domain": [-60, 60], "nice": false, "zero": false}, "axis": null},
    "color": {"datum": "Up", "scale": {"domain": ["Up"], "range": ["#0080ff"]},
     "legend": {"orient": "none", "legendX": 764, "legendY": 8, "title": null, "padding": 0, "symbolType": "M-4.4,0L4.4,0M-4.4,-0.8L-4.4,0.8M4.4,-0.8L4.4,0.8M-0.5,0A0.5,0.5,0,1,0,0.5,0A0.5,0.5,0,1,0,-0.5,0Z", "symbolSize": 100, "symbolStrokeColor": "#50a0ff", "symbolStrokeWidth": 1, "symbolOpacity": 1, "labelFontSize": 15, "labelColor": "black", "labelAlign": "right", "labelOffset": -39}}}}
 ]
}
]
}
